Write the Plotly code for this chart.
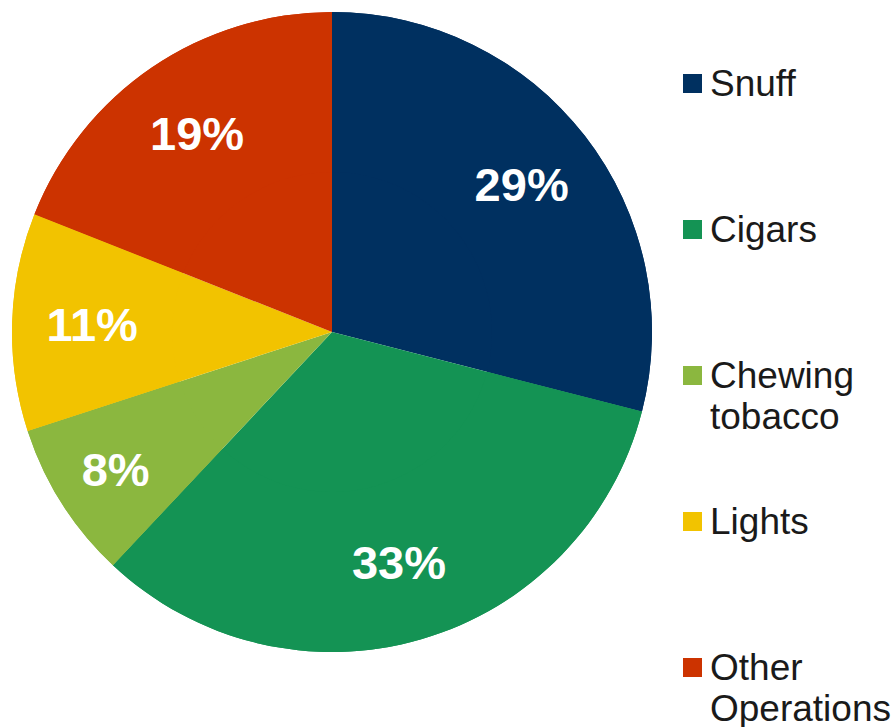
import plotly.graph_objects as go

labels = ["Snuff", "Cigars", "Chewing tobacco", "Lights", "Other Operations"]
legend_lines = [["Snuff"], ["Cigars"], ["Chewing", "tobacco"], ["Lights"], ["Other", "Operations"]]
values = [29, 33, 8, 11, 19]
colors = ["#003060", "#149354", "#8BB73F", "#F2C300", "#CC3300"]

W, H = 895, 727
dom = dict(x=[12 / W, 652 / W], y=[1 - 652 / H, 1 - 12 / H])
fig = go.Figure()
# full pie (colour fill)
fig.add_trace(go.Pie(
    labels=labels, values=values, sort=False, direction="clockwise", rotation=0,
    marker=dict(colors=colors, line=dict(width=0)),
    textinfo="none", showlegend=False, hoverinfo="label+percent", domain=dom,
))
# ring carrying the percentage labels further out
fig.add_trace(go.Pie(
    labels=labels, values=values, sort=False, direction="clockwise", rotation=0,
    hole=0.5,
    marker=dict(colors=colors, line=dict(width=0)),
    texttemplate="%{percent:.0%}", textposition="inside",
    insidetextorientation="horizontal",
    textfont=dict(family="Liberation Sans", size=47, color="white", weight="bold"),
    showlegend=False, hoverinfo="skip", domain=dom,
))

# manual legend
shapes = []
annotations = []
top0 = 74
step = 146
line_h = 41
for i, (lines, c) in enumerate(zip(legend_lines, colors)):
    top = top0 + i * step
    shapes.append(dict(type="rect", xref="paper", yref="paper",
                       x0=683 / W, x1=702 / W, y0=1 - top / H, y1=1 - (top + 19) / H,
                       fillcolor=c, line=dict(width=0)))
    for j, t in enumerate(lines):
        cy = top + 9.5 + j * line_h
        annotations.append(dict(xref="paper", yref="paper", x=708 / W, y=1 - cy / H,
                                xanchor="left", yanchor="middle", align="left", showarrow=False,
                                text=t, font=dict(family="Liberation Sans", size=37, color="#1a1a1a")))

fig.update_layout(width=W, height=H, margin=dict(l=0, r=0, t=0, b=0),
                  paper_bgcolor="white", plot_bgcolor="white",
                  shapes=shapes, annotations=annotations)
fig.write_html("out.html", config=dict(displayModeBar=False),
               post_script="document.body.style.margin='0';document.body.style.overflow='hidden';")
